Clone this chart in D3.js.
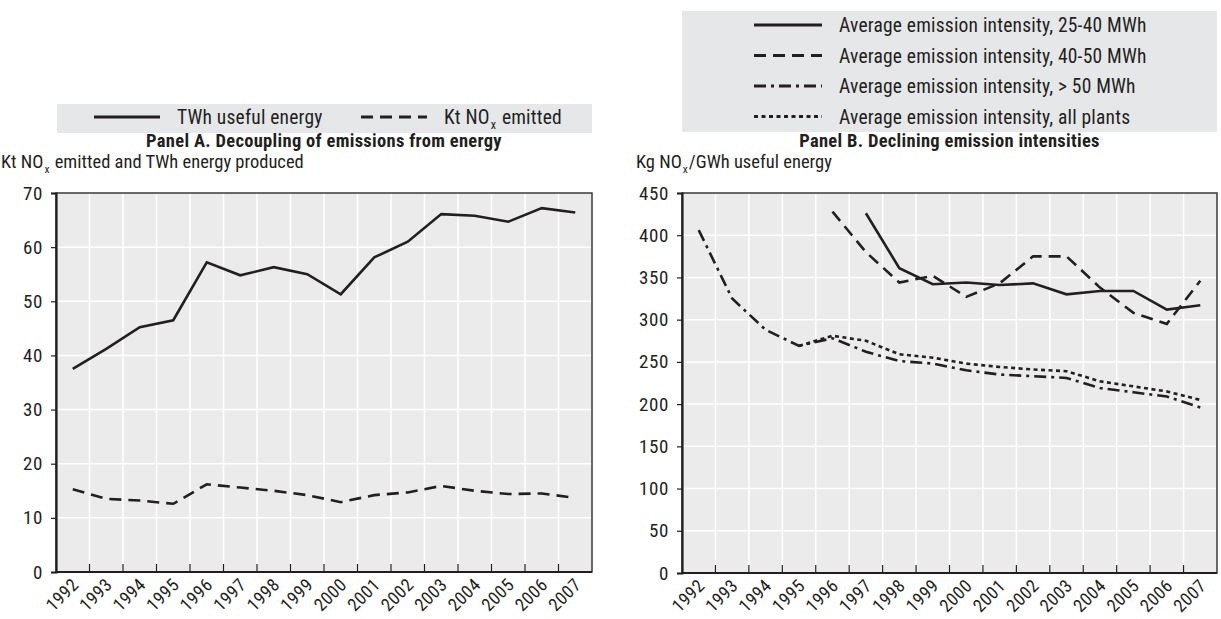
<!DOCTYPE html>
<html lang="en">
<head>
    <meta charset="UTF-8">
    <title>NOx emissions and energy</title>
    <script src="https://cdn.jsdelivr.net/npm/d3@7"></script>
    <style>
        body{ margin:0; background:#fff; }
        text{ font-family: "Liberation Sans Narrow", "Arial Narrow", "Roboto Condensed", sans-serif; fill:#231f20; }
        .tick-label{ font-size:19px; letter-spacing:0.6px; }
        .year-label{ font-size:18px; letter-spacing:0.4px; }
        .legend-label{ font-size:19.5px; letter-spacing:0.2px; }
        .panel-title{ font-size:18.5px; font-weight:bold; letter-spacing:0.3px; }
        .axis-title{ font-size:18.5px; }
    </style>
</head>
<body>
<div class="container"></div>
<script>
    // ---------- data ----------
    const years = ["1992","1993","1994","1995","1996","1997","1998","1999",
                   "2000","2001","2002","2003","2004","2005","2006","2007"];

    // Panel A
    const twhEnergy = [37.5, 41.2, 45.2, 46.5, 57.2, 54.8, 56.3, 55.0, 51.3, 58.1, 61.0, 66.1, 65.8, 64.7, 67.2, 66.4];
    const ktNox     = [15.3, 13.5, 13.2, 12.6, 16.2, 15.6, 15.0, 14.2, 12.9, 14.2, 14.7, 15.9, 15.0, 14.4, 14.5, 13.7];
    const ticksA = [0, 10, 20, 30, 40, 50, 60, 70];

    // Panel B
    const int2540 = [null, null, null, null, null, 426, 361, 342, 344, 341, 343, 330, 334, 334, 312, 317];
    const int4050 = [null, null, null, null, 428, 380, 344, 352, 327, 343, 375, 375, 338, 308, 295, 346];
    const int50   = [406, 325, 288, 269, 278, 262, 251, 248, 240, 235, 233, 231, 219, 214, 209, 196];
    const intAll  = [null, null, null, 269, 281, 275, 259, 255, 248, 244, 241, 239, 227, 221, 215, 205];
    const ticksB = [0, 50, 100, 150, 200, 250, 300, 350, 400, 450];

    const legendA = ["TWh useful energy", "Kt NO|x| emitted"];
    const legendB = ["Average emission intensity, 25-40 MWh",
                     "Average emission intensity, 40-50 MWh",
                     "Average emission intensity, > 50 MWh",
                     "Average emission intensity, all plants"];

    // ---------- styles ----------
    const dashes = {solid: null, dash: "12,7", dashdot: "12,5,3,5", dot: "4,3.5"};
    const ink = "#231f20";

    // ---------- svg ----------
    const width = 1221, height = 619;
    const svg = d3.select(".container").append("svg")
        .attr("width", width).attr("height", height)
        .attr("viewBox", `0 0 ${width} ${height}`);

    // text with an "x" subscript, marked as |x| in the label
    function subText(sel, str){
        const parts = str.split("|");
        sel.append("tspan").text(parts[0]);
        if(parts.length > 1){
            sel.append("tspan").text(parts[1]).attr("font-size", "0.62em").attr("dy", 5).attr("dx", 1);
            sel.append("tspan").text(parts[2]).attr("dy", -5).attr("dx", 1);
        }
    }

    function drawPanel(cfg){
        const x = d3.scaleBand().domain(years).range([cfg.left, cfg.right]);
        const y = d3.scaleLinear().domain(cfg.domain).range([cfg.bottom, cfg.top]);
        const g = svg.append("g");

        g.append("rect")
            .attr("x", cfg.left).attr("y", cfg.top)
            .attr("width", cfg.right - cfg.left).attr("height", cfg.bottom - cfg.top)
            .attr("fill", "#ebebeb");

        // grid
        g.append("g").selectAll("line").data(cfg.ticks.slice(1, -1)).join("line")
            .attr("x1", cfg.left).attr("x2", cfg.right)
            .attr("y1", d => y(d)).attr("y2", d => y(d))
            .attr("stroke", "#fff").attr("stroke-width", 1.5);
        g.append("g").selectAll("line").data(years.slice(1)).join("line")
            .attr("x1", d => x(d)).attr("x2", d => x(d))
            .attr("y1", cfg.top).attr("y2", cfg.bottom)
            .attr("stroke", "#fff").attr("stroke-width", 1.5);

        // frame
        g.append("rect")
            .attr("x", cfg.left).attr("y", cfg.top)
            .attr("width", cfg.right - cfg.left).attr("height", cfg.bottom - cfg.top)
            .attr("fill", "none").attr("stroke", "#3a3a3a").attr("stroke-width", 1.5);

        // y axis
        const yAxis = g.append("g").attr("transform", `translate(${cfg.left},0)`)
            .call(d3.axisLeft(y).tickValues(cfg.ticks).tickSize(5).tickPadding(8));
        yAxis.select(".domain").attr("stroke", ink).attr("stroke-width", 2.2);
        yAxis.selectAll(".tick line").attr("stroke", ink).attr("stroke-width", 1.2);
        yAxis.selectAll(".tick text").attr("class", "tick-label").attr("font-size", null)
            .attr("font-family", null).attr("fill", ink);

        // x axis: ticks on band edges pointing up
        const xg = g.append("g");
        xg.append("line").attr("x1", cfg.left).attr("x2", cfg.right)
            .attr("y1", cfg.bottom).attr("y2", cfg.bottom)
            .attr("stroke", ink).attr("stroke-width", 2.2);
        xg.selectAll(".xt").data(years.slice(1)).join("line").attr("class", "xt")
            .attr("x1", d => x(d)).attr("x2", d => x(d))
            .attr("y1", cfg.bottom).attr("y2", cfg.bottom - 8)
            .attr("stroke", ink).attr("stroke-width", 1.2);
        xg.selectAll("text").data(years).join("text")
            .attr("class", "year-label")
            .attr("text-anchor", "end")
            .attr("transform", d => `translate(${x(d) + x.bandwidth() / 2 + 7},${cfg.bottom + 14}) rotate(-45)`)
            .text(d => d);

        // series
        const line = d3.line()
            .defined(d => d != null)
            .x((d, i) => x(years[i]) + x.bandwidth() / 2)
            .y(d => y(d));
        cfg.series.forEach(s => {
            g.append("path").datum(s.values)
                .attr("d", line)
                .attr("fill", "none")
                .attr("stroke", ink)
                .attr("stroke-width", 2.6)
                .attr("stroke-dasharray", dashes[s.dash]);
        });

        // title & axis title
        svg.append("text").attr("class", "panel-title")
            .attr("x", (cfg.left + cfg.right) / 2).attr("y", cfg.top - 46)
            .attr("text-anchor", "middle").text(cfg.title);
        svg.append("text").attr("class", "axis-title")
            .attr("x", cfg.titleX).attr("y", cfg.top - 25)
            .call(subText, cfg.yTitle);
    }

    function drawLegend(box, items, styleKeys, layout){
        svg.append("rect")
            .attr("x", box.x).attr("y", box.y).attr("width", box.w).attr("height", box.h)
            .attr("fill", "#e6e7e8");
        items.forEach((label, i) => {
            const p = layout(i);
            svg.append("line")
                .attr("x1", p.x).attr("x2", p.x + p.len)
                .attr("y1", p.y).attr("y2", p.y)
                .attr("stroke", ink).attr("stroke-width", 3)
                .attr("stroke-dasharray", dashes[styleKeys[i]]);
            svg.append("text").attr("class", "legend-label")
                .attr("x", p.x + p.len + 17).attr("y", p.y + 7)
                .call(subText, label);
        });
    }

    // ---------- panel A ----------
    drawLegend({x: 57, y: 104, w: 535, h: 29}, legendA, ["solid", "dash"],
        i => ({x: i === 0 ? 94 : 361, y: 117, len: 66}));
    drawPanel({
        left: 56, right: 592, top: 193, bottom: 572,
        domain: [0, 70], ticks: ticksA,
        title: "Panel A. Decoupling of emissions from energy",
        yTitle: "Kt NO|x| emitted and TWh energy produced", titleX: 1,
        series: [{values: twhEnergy, dash: "solid"}, {values: ktNox, dash: "dash"}]
    });

    // ---------- panel B ----------
    drawLegend({x: 682, y: 11, w: 535, h: 121}, legendB, ["solid", "dash", "dashdot", "dot"],
        i => ({x: 754, y: 25 + i * 30.5, len: 68}));
    drawPanel({
        left: 682, right: 1217, top: 193, bottom: 573,
        domain: [0, 450], ticks: ticksB,
        title: "Panel B. Declining emission intensities",
        yTitle: "Kg NO|x|/GWh useful energy", titleX: 636,
        series: [{values: int2540, dash: "solid"}, {values: int4050, dash: "dash"},
                 {values: int50, dash: "dashdot"}, {values: intAll, dash: "dot"}]
    });
</script>
</body>
</html>
